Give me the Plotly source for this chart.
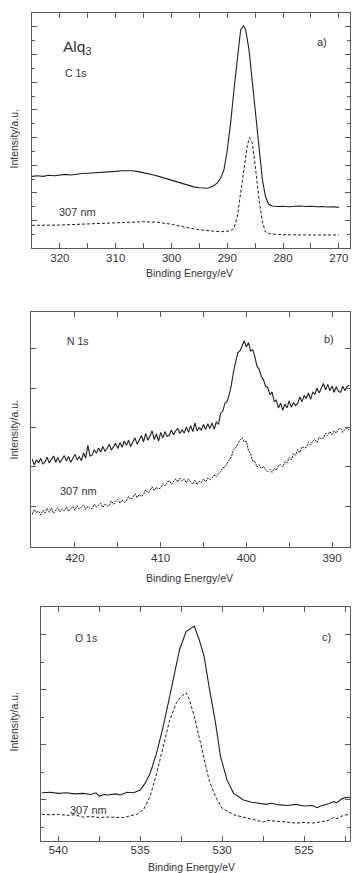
import numpy as np
import plotly.graph_objects as go

W, H = 355, 873
FONT = "Liberation Sans, Arial, sans-serif"

# ---------------- Panel a: C 1s ----------------
a_solid_E = [325.0, 324.0, 323.0, 322.0, 321.0, 320.0, 319.0, 318.0, 317.0, 316.0, 315.0, 314.0,
             313.0, 312.0, 311.0, 310.0, 309.0, 308.0, 307.0, 306.0, 305.0, 304.0, 303.0, 302.0,
             301.0, 300.0, 299.0, 298.0, 297.0, 296.0, 295.0, 294.0, 293.5, 292.4, 291.8, 291.2,
             290.6, 290.0, 289.4, 288.8, 288.2, 287.6, 287.1, 286.7, 286.1, 285.5, 284.9, 284.3,
             283.7, 283.15, 282.6, 282.0, 281.0, 280.0, 279.0, 278.0, 277.0, 276.0, 275.0, 274.0,
             273.0, 272.0, 271.0, 270.0]
a_solid_I = [2.60, 2.62, 2.60, 2.64, 2.62, 2.65, 2.67, 2.65, 2.68, 2.70, 2.71, 2.72,
             2.74, 2.75, 2.77, 2.78, 2.80, 2.81, 2.80, 2.77, 2.73, 2.69, 2.64, 2.58,
             2.52, 2.46, 2.40, 2.33, 2.27, 2.22, 2.19, 2.17, 2.17, 2.26, 2.36, 2.53,
             2.83, 3.55, 4.52, 5.72, 6.93, 7.89, 8.04, 7.90, 7.17, 5.96, 4.64, 3.43,
             2.47, 1.87, 1.60, 1.53, 1.51, 1.52, 1.50, 1.52, 1.53, 1.51, 1.52, 1.50,
             1.51, 1.49, 1.50, 1.48]

a_dash_E = [325.0, 320.0, 315.0, 310.0, 305.0, 302.5, 300.0, 297.5, 295.0, 292.5, 291.0, 289.5,
            288.8, 288.2, 287.6, 287.0, 286.4, 286.0, 285.5, 284.9, 284.3, 283.7, 283.2, 282.3,
            280.0, 275.0, 270.0]
a_dash_I = [0.83, 0.84, 0.88, 0.93, 0.96, 0.94, 0.87, 0.76, 0.67, 0.62, 0.60, 0.63,
            0.72, 1.14, 1.99, 2.95, 3.73, 4.00, 3.80, 2.83, 1.75, 0.96, 0.60, 0.52,
            0.49, 0.48, 0.48]

# ---------------- Panel b: N 1s ----------------
b_E = np.round(np.arange(425.0, 387.99, -0.25), 2)
b_solid_I = [2.20, 2.05, 2.18, 2.10, 2.22, 2.08, 2.13, 2.25, 2.10, 2.19, 2.28, 2.12,
             2.24, 2.11, 2.20, 2.29, 2.15, 2.27, 2.12, 2.24, 2.32, 2.18, 2.26, 2.16,
             2.36, 2.22, 2.55, 2.28, 2.30, 2.44, 2.35, 2.48, 2.38, 2.52, 2.40, 2.47,
             2.58, 2.43, 2.52, 2.60, 2.47, 2.62, 2.50, 2.66, 2.55, 2.68, 2.52, 2.64,
             2.74, 2.58, 2.70, 2.80, 2.64, 2.85, 2.68, 2.78, 2.92, 2.70, 2.84, 2.66,
             2.88, 2.74, 2.90, 2.78, 2.80, 2.94, 2.82, 2.92, 2.98, 2.85, 2.95, 2.86,
             3.02, 2.88, 3.05, 2.90, 3.12, 2.92, 3.00, 2.94, 3.08, 2.95, 3.10, 2.98,
             3.12, 2.96, 3.15, 3.08, 3.36, 3.42, 3.62, 3.66, 3.84, 4.08, 4.42, 4.68,
             4.90, 4.95, 5.10, 5.20, 5.05, 5.16, 4.95, 4.98, 4.80, 4.55, 4.48, 4.30,
             4.22, 4.05, 4.02, 3.84, 3.90, 3.66, 3.70, 3.50, 3.62, 3.44, 3.60, 3.50,
             3.68, 3.52, 3.64, 3.56, 3.62, 3.78, 3.66, 3.82, 3.74, 3.88, 3.72, 3.90,
             3.85, 4.00, 3.88, 4.02, 4.12, 3.96, 4.10, 3.94, 4.06, 3.90, 4.04, 3.92,
             3.90, 4.05, 3.94, 4.04, 4.08]
b_dash_I = [0.80, 0.92, 0.84, 0.88, 0.78, 0.90, 0.83, 0.95, 0.85, 0.96, 0.82, 0.91,
            0.97, 0.86, 0.94, 0.88, 0.99, 0.87, 0.95, 1.00, 0.90, 1.02, 0.93, 0.99,
            1.04, 0.92, 1.00, 0.95, 0.94, 1.06, 0.98, 1.03, 1.08, 0.97, 1.06, 1.01,
            1.02, 1.14, 1.05, 1.12, 1.18, 1.08, 1.16, 1.10, 1.14, 1.25, 1.18, 1.22,
            1.32, 1.22, 1.30, 1.25, 1.30, 1.42, 1.35, 1.40, 1.50, 1.40, 1.48, 1.44,
            1.47, 1.58, 1.52, 1.60, 1.66, 1.56, 1.64, 1.70, 1.62, 1.72, 1.65, 1.70,
            1.60, 1.70, 1.62, 1.56, 1.66, 1.55, 1.64, 1.60, 1.70, 1.62, 1.72, 1.68,
            1.72, 1.80, 1.76, 1.84, 1.88, 1.98, 2.00, 2.10, 2.18, 2.25, 2.44, 2.48,
            2.60, 2.68, 2.74, 2.64, 2.66, 2.42, 2.34, 2.15, 2.14, 2.00, 2.06, 1.96,
            2.02, 1.92, 1.88, 1.94, 1.86, 1.96, 1.92, 2.04, 2.06, 2.00, 2.14, 2.10,
            2.24, 2.18, 2.34, 2.30, 2.44, 2.36, 2.52, 2.48, 2.50, 2.62, 2.56, 2.66,
            2.70, 2.62, 2.76, 2.72, 2.74, 2.86, 2.80, 2.90, 2.82, 2.92, 2.86, 2.96,
            2.98, 2.88, 2.96, 3.00, 2.94]

# ---------------- Panel c: O 1s ----------------
c_solid_E = [541.0, 540.5, 540.0, 539.5, 539.0, 538.5, 538.0, 537.7, 537.5, 537.2, 537.0, 536.5,
             536.2, 535.8, 535.4, 535.0, 534.7, 534.4, 534.0, 533.6, 533.2, 532.9, 532.6, 532.2,
             531.9, 531.7, 531.4, 531.1, 530.8, 530.4, 530.1, 529.7, 529.3, 528.7, 528.2, 527.8,
             527.3, 527.0, 526.5, 526.0, 525.5, 525.0, 524.5, 524.2, 524.0, 523.5, 523.2, 523.0,
             522.7, 522.4, 522.2]
c_solid_I = [0.13, 0.14, 0.12, 0.13, 0.11, 0.12, 0.10, 0.13, 0.07, 0.10, 0.09, 0.11,
             0.09, 0.14, 0.13, 0.18, 0.30, 0.48, 0.85, 1.33, 1.88, 2.30, 2.73, 3.06,
             3.12, 3.16, 2.91, 2.61, 2.06, 1.39, 0.79, 0.36, 0.12, 0.00, -0.04, -0.06,
             -0.08, -0.06, -0.09, -0.10, -0.08, -0.11, -0.10, -0.14, -0.11, -0.07, -0.03, -0.05,
             0.02, 0.05, 0.04]

c_dash_E = [541.0, 540.5, 540.0, 539.5, 539.0, 538.5, 538.0, 537.5, 537.0, 536.5, 536.0, 535.5,
            535.2, 534.8, 534.4, 534.0, 533.6, 533.2, 532.8, 532.5, 532.2, 532.0, 531.7, 531.4,
            531.1, 530.8, 530.4, 530.0, 529.3, 528.5, 528.0, 527.5, 527.2, 527.0, 526.5, 526.0,
            525.5, 525.0, 524.5, 524.0, 523.5, 523.2, 523.0, 522.6, 522.2]
c_dash_I = [-0.26, -0.27, -0.26, -0.28, -0.27, -0.31, -0.30, -0.32, -0.31, -0.32, -0.32, -0.28,
            -0.26, -0.18, 0.06, 0.48, 0.97, 1.45, 1.76, 1.88, 1.95, 1.82, 1.52, 1.15,
            0.73, 0.36, 0.06, -0.15, -0.27, -0.33, -0.36, -0.40, -0.37, -0.38, -0.39, -0.41,
            -0.42, -0.41, -0.42, -0.40, -0.37, -0.32, -0.34, -0.28, -0.26]

LINE = "#1e1e1e"
AX = "#5a5a5a"
TXT = "#333333"

fig = go.Figure()

def add(E, I, ax, dash, width=1.1):
    fig.add_trace(go.Scatter(x=E, y=I, mode="lines", xaxis="x" + ax, yaxis="y" + ax,
                             line=dict(color=LINE, width=width, dash=dash),
                             showlegend=False, hoverinfo="skip"))

add(a_solid_E, a_solid_I, "", "solid")
add(a_dash_E, a_dash_I, "", "3px,2px", 1.0)
add(b_E, b_solid_I, "2", "solid")
add(b_E, b_dash_I, "2", "2px,1px", 1.0)
add(c_solid_E, c_solid_I, "3", "solid")
add(c_dash_E, c_dash_I, "3", "3px,2px", 1.0)

def px_dom_x(l, r):
    return [l / W, r / W]

def px_dom_y(t, b):
    return [1 - b / H, 1 - t / H]

def xaxis(dom, rng, dtick, mdtick, anchor, standoff):
    return dict(domain=dom, range=rng, dtick=dtick, tick0=0, anchor=anchor,
                showline=True, linecolor=AX, linewidth=1, mirror="allticks",
                ticks="inside", ticklen=5, tickcolor=AX, tickwidth=1,
                minor=dict(ticks="inside", ticklen=5, dtick=mdtick, tick0=0, tickcolor=AX),
                showgrid=False, zeroline=False, ticklabelstandoff=standoff,
                tickfont=dict(family=FONT, size=11.5, color=TXT))

def yaxis(dom, rng, mdtick, anchor):
    d = dict(domain=dom, range=rng, dtick=1, tick0=0, anchor=anchor,
             showline=True, linecolor=AX, linewidth=1, mirror="allticks",
             ticks="inside", ticklen=5, tickcolor=AX, tickwidth=1,
             showticklabels=False, showgrid=False, zeroline=False)
    if mdtick:
        d["minor"] = dict(ticks="inside", ticklen=3, dtick=mdtick, tick0=0, tickcolor=AX)
    return d

fig.update_layout(
    width=W, height=H, margin=dict(l=0, r=0, t=0, b=0),
    paper_bgcolor="white", plot_bgcolor="white",
    xaxis=xaxis(px_dom_x(32, 350), [325, 268], 10, 5, "y", -1),
    yaxis=yaxis(px_dom_y(13.3, 248.3), [0, 8.49], 0.5, "x"),
    xaxis2=xaxis(px_dom_x(31.3, 350), [425.1, 387.9], 10, 5, "y2", 0),
    yaxis2=yaxis(px_dom_y(312.3, 546.7), [-0.025, 5.93], None, "x2"),
    xaxis3=xaxis(px_dom_x(40.7, 350), [541.07, 522.2], 5, 2.5, "y3", -2),
    yaxis3=yaxis(px_dom_y(607.3, 840.7), [-0.74, 3.5], 0.5, "x3"),
)

def note(text, x, y, size=11, xanchor="left", angle=0):
    fig.add_annotation(text=text, x=x / W, y=1 - y / H, xref="paper", yref="paper",
                       xanchor=xanchor, yanchor="middle", showarrow=False, textangle=angle,
                       font=dict(family=FONT, size=size, color=TXT))

# panel a
note("Alq<sub>3</sub>", 61, 47, 15.5)
note("C 1s", 62.5, 72.5, 10.5)
note("a)", 314.5, 42, 11)
note("307 nm", 56.5, 211.5, 11)
note("Binding Energy/eV", 190, 273, 10.5, "center")
note("Intensity/a.u.", 13.5, 139, 10.5, "center", -90)
# panel b
note("N 1s", 64.5, 341, 10.5)
note("b)", 321.5, 339.5, 11)
note("307 nm", 57.5, 491, 11)
note("Binding Energy/eV", 190, 578, 10.5, "center")
note("Intensity/a.u.", 13.5, 430, 10.5, "center", -90)
# panel c
note("O 1s", 72.5, 637.5, 10.5)
note("c)", 319.5, 637, 11)
note("307 nm", 68, 810, 11)
note("Binding Energy/eV", 192, 867, 10.5, "center")
note("Intensity/a.u.", 13.5, 722, 10.5, "center", -90)

fig.write_html("out.html")
